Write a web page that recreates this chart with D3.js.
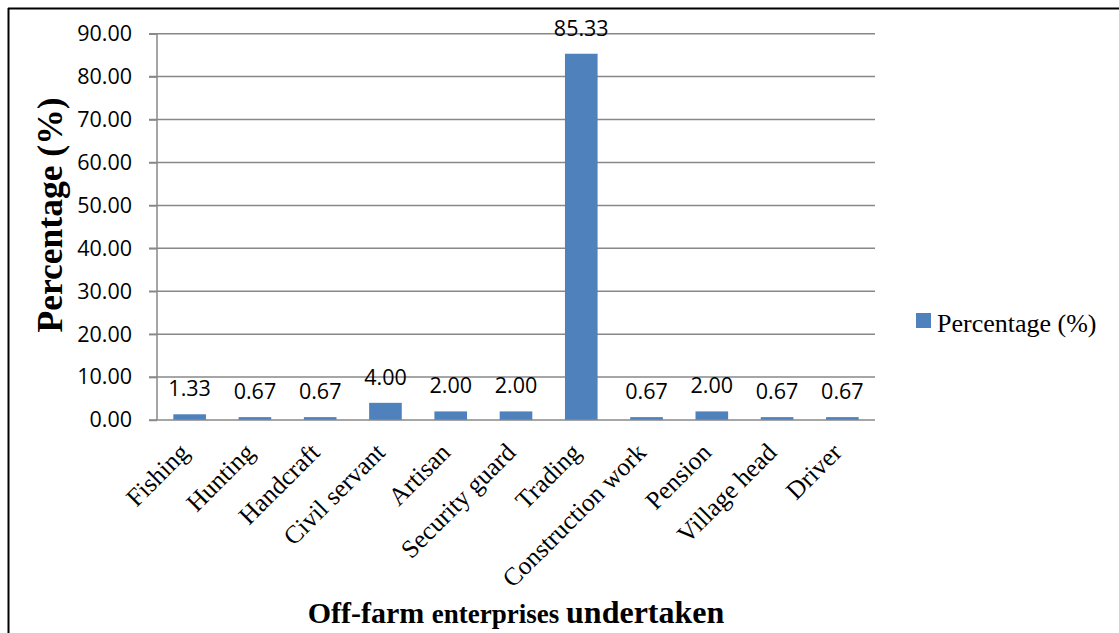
<!DOCTYPE html>
<html>
<head>
<meta charset="utf-8">
<script src="https://cdn.jsdelivr.net/npm/d3@7"></script>
<style>
  html, body { margin: 0; padding: 0; background: #fff; }
  svg { display: block; }
</style>
</head>
<body>
<svg id="chart" width="1119" height="633"></svg>
<script>
const categories = ["Fishing", "Hunting", "Handcraft", "Civil servant", "Artisan", "Security guard", "Trading", "Construction work", "Pension", "Village head", "Driver"];
const values = [1.33, 0.67, 0.67, 4.00, 2.00, 2.00, 85.33, 0.67, 2.00, 0.67, 0.67];
const yTicks = [0, 10, 20, 30, 40, 50, 60, 70, 80, 90];
const seriesName = "Percentage (%)";
const yTitle = "Percentage (%)";
const xTitleParts = [
  { text: "Off-farm ", size: 30 },
  { text: "enterprises ", size: 27 },
  { text: "undertaken", size: 32 }
];

const svg = d3.select("#chart");
const barColor = "#4F81BD";
const gridColor = "#888888";

const x = d3.scaleBand().domain(categories).range([157, 875]).paddingInner(0.5).paddingOuter(0.25);
const y = d3.scaleLinear().domain([0, 90]).range([420, 33.7]);

// outer frame
svg.append("line").attr("x1", 8).attr("x2", 1119).attr("y1", 8.5).attr("y2", 8.5).attr("stroke", "#000").attr("stroke-width", 2);
svg.append("line").attr("x1", 8.5).attr("x2", 8.5).attr("y1", 8).attr("y2", 633).attr("stroke", "#000").attr("stroke-width", 2);

// gridlines
svg.append("g").selectAll("line").data(yTicks.filter(d => d > 0)).join("line")
  .attr("x1", 149).attr("x2", 875)
  .attr("y1", d => y(d)).attr("y2", d => y(d))
  .attr("stroke", gridColor).attr("stroke-width", 1.5);

// y axis
const yAxis = d3.axisLeft(y).tickValues(yTicks).tickFormat(d3.format(".2f")).tickSize(8).tickPadding(17);
const gy = svg.append("g").attr("transform", "translate(157,0)").call(yAxis);
gy.select(".domain").attr("stroke", gridColor).attr("stroke-width", 1.5).attr("d", `M0,${y(90)}V${y(0)}`);
gy.selectAll(".tick line").attr("stroke", gridColor).attr("stroke-width", 1.5);
gy.selectAll(".tick text").attr("font-family", "'Open Sans', sans-serif").attr("font-size", 21.5).attr("fill", "#000");

// bars
svg.append("g").selectAll("rect").data(values).join("rect")
  .attr("x", (d, i) => x(categories[i]))
  .attr("width", x.bandwidth())
  .attr("y", d => y(d))
  .attr("height", d => y(0) - y(d))
  .attr("fill", barColor);

// x axis line
svg.append("line").attr("x1", 149).attr("x2", 875).attr("y1", y(0)).attr("y2", y(0))
  .attr("stroke", gridColor).attr("stroke-width", 1.5);

// data labels
svg.append("g").selectAll("text").data(values).join("text")
  .attr("x", (d, i) => x(categories[i]) + x.bandwidth() / 2)
  .attr("y", d => y(d) - 18)
  .attr("text-anchor", "middle")
  .attr("font-family", "'Open Sans', sans-serif").attr("font-size", 21.5).attr("fill", "#000")
  .text(d => d3.format(".2f")(d));

// category labels
svg.append("g").selectAll("text").data(categories).join("text")
  .attr("transform", d => `translate(${x(d) + x.bandwidth() / 2 + 1},454) rotate(-45)`)
  .attr("text-anchor", "end")
  .attr("font-family", "'Liberation Serif', 'Times New Roman', serif").attr("font-size", 25.5).attr("fill", "#000")
  .text(d => d);

// y title
svg.append("text")
  .attr("transform", "translate(62,215) rotate(-90)")
  .attr("text-anchor", "middle")
  .attr("font-family", "'Liberation Serif', 'Times New Roman', serif").attr("font-weight", "bold").attr("font-size", 35.5).attr("fill", "#000")
  .text(yTitle);

// x title
const xt = svg.append("text")
  .attr("x", 516).attr("y", 623)
  .attr("text-anchor", "middle")
  .attr("font-family", "'Liberation Serif', 'Times New Roman', serif").attr("font-weight", "bold").attr("fill", "#000");
xt.selectAll("tspan").data(xTitleParts).join("tspan")
  .attr("font-size", d => d.size)
  .style("white-space", "pre")
  .text(d => d.text);

// legend
const lg = svg.append("g");
lg.append("rect").attr("x", 916).attr("y", 313).attr("width", 15).attr("height", 15).attr("fill", barColor);
lg.append("text").attr("x", 937).attr("y", 332)
  .attr("font-family", "'Liberation Serif', 'Times New Roman', serif").attr("font-size", 26).attr("fill", "#000")
  .text(seriesName);
</script>
</body>
</html>
